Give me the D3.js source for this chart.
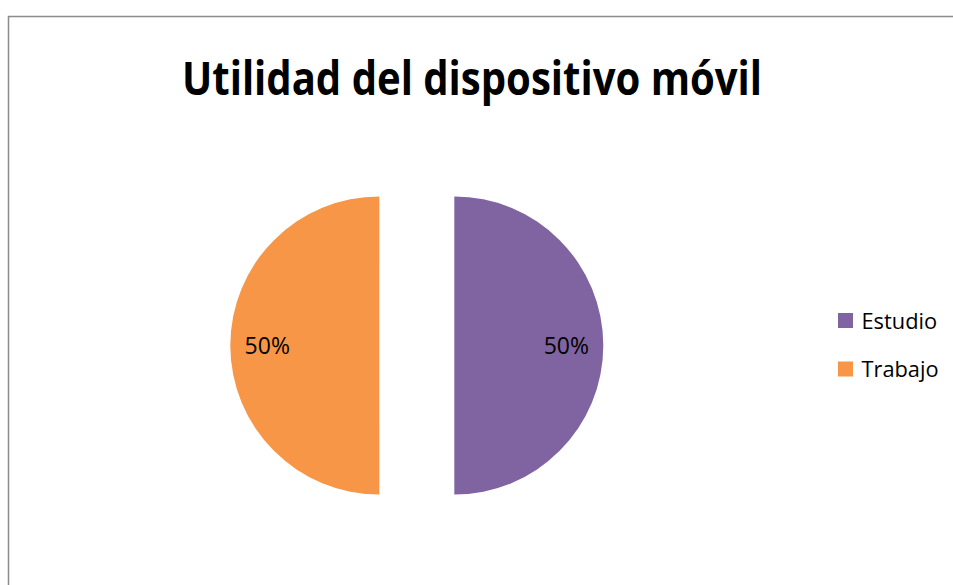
<!DOCTYPE html>
<html>
<head>
<meta charset="utf-8">
<script src="https://cdn.jsdelivr.net/npm/d3@7"></script>
<style>
  html, body { margin: 0; padding: 0; background: #fff; }
  svg { display: block; }
</style>
</head>
<body>
<svg id="chart" width="953" height="585"></svg>
<script>
const title = "Utilidad del dispositivo móvil";
const categories = ["Estudio", "Trabajo"];
const values = [50, 50];
const colors = ["#8064A2", "#F79646"];

const svg = d3.select("#chart");

// chart border (extends beyond visible area right and bottom)
svg.append("rect")
  .attr("x", 8.5).attr("y", 16.5)
  .attr("width", 980).attr("height", 620)
  .attr("fill", "#fff")
  .attr("stroke", "#8c8c8c").attr("stroke-width", 1.5);

// title
svg.append("text")
  .attr("x", 472).attr("y", 95)
  .attr("text-anchor", "middle")
  .attr("font-family", "'Open Sans', sans-serif")
  .attr("font-weight", "bold")
  .attr("font-size", 46)
  .attr("textLength", 580)
  .attr("lengthAdjust", "spacingAndGlyphs")
  .attr("fill", "#000")
  .text(title);

// pie
const cx = 416.8, cy = 345.5, r = 149, explode = 37.5;
const data = categories.map((c, i) => ({ name: c, value: values[i], color: colors[i] }));
const pie = d3.pie().value(d => d.value).sort(null);
const arc = d3.arc().innerRadius(0).outerRadius(r);
const total = d3.sum(values);
const fmt = d3.format(".0%");

const g = svg.append("g").attr("transform", `translate(${cx},${cy})`);
const slices = g.selectAll("g.slice").data(pie(data)).enter().append("g")
  .attr("class", "slice")
  .attr("transform", d => {
    const a = (d.startAngle + d.endAngle) / 2;
    return `translate(${explode * Math.sin(a)},${-explode * Math.cos(a)})`;
  });

slices.append("path")
  .attr("d", arc)
  .attr("fill", d => d.data.color);

slices.append("text")
  .attr("transform", d => {
    const a = (d.startAngle + d.endAngle) / 2;
    const lr = r * 0.752;
    return `translate(${lr * Math.sin(a)},${-lr * Math.cos(a)})`;
  })
  .attr("dy", "0.36em")
  .attr("text-anchor", "middle")
  .attr("font-family", "'Open Sans', sans-serif")
  .attr("font-size", 23)
  .attr("fill", "#000")
  .text(d => fmt(d.data.value / total));

// legend
const legend = svg.append("g").attr("transform", "translate(838,313)");
const items = legend.selectAll("g").data(data).enter().append("g")
  .attr("transform", (d, i) => `translate(0,${i * 48.5})`);
items.append("rect")
  .attr("width", 15).attr("height", 15)
  .attr("fill", d => d.color);
items.append("text")
  .attr("x", 23.5).attr("y", 15.5)
  .attr("font-family", "'Open Sans', sans-serif")
  .attr("font-size", 21.8)
  .attr("fill", "#000")
  .text(d => d.name);
</script>
</body>
</html>
